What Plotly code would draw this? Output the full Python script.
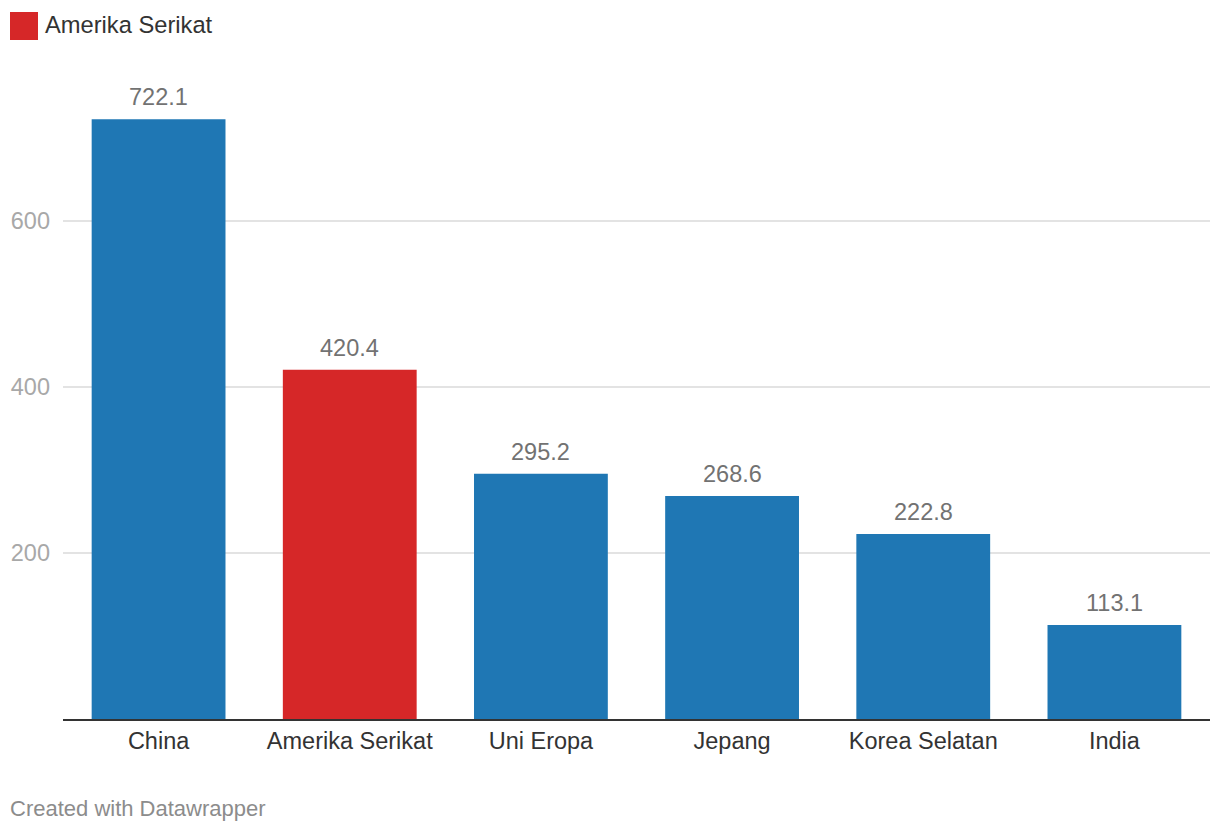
import plotly.graph_objects as go

categories = ["China", "Amerika Serikat", "Uni Eropa", "Jepang", "Korea Selatan", "India"]
values = [722.1, 420.4, 295.2, 268.6, 222.8, 113.1]
highlight = "Amerika Serikat"
legend_label = "Amerika Serikat"
y_ticks = [200, 400, 600]
footer = "Created with Datawrapper"

BLUE = "#1f77b4"
RED = "#d62728"
FONT = "Liberation Sans, Arial, Helvetica, sans-serif"

OFF = 8  # page body margin
W, H = 1220 - OFF, 832 - OFF
ML, MR, MT, MB = 63 - OFF, 10, 60 - OFF, 113
PW, PH = W - ML - MR, H - MT - MB


def px_x(p):
    return (p - OFF - ML) / PW


def px_y(p):
    return (H - MB - (p - OFF)) / PH


colors = [RED if c == highlight else BLUE for c in categories]

fig = go.Figure()
fig.add_trace(go.Bar(
    x=categories, y=values, marker=dict(color=colors, line=dict(width=0)),
    showlegend=False, hoverinfo="skip",
))

for c, v in zip(categories, values):
    fig.add_annotation(
        x=c, y=v, text=f"{v:.1f}", showarrow=False, yanchor="bottom",
        yshift=7, font=dict(family=FONT, size=23.5, color="#727272"),
    )

# legend swatch + label
fig.add_shape(type="rect", xref="paper", yref="paper",
              x0=px_x(10), x1=px_x(38), y0=px_y(40), y1=px_y(12),
              fillcolor=RED, line=dict(width=0))
fig.add_annotation(xref="paper", yref="paper", x=px_x(43), y=px_y(25),
                   xanchor="left", yanchor="middle", showarrow=False,
                   text=legend_label, font=dict(family=FONT, size=23.7, color="#333333"))

fig.add_annotation(xref="paper", yref="paper", x=px_x(8), y=px_y(808),
                   xanchor="left", yanchor="middle", showarrow=False,
                   text=footer, font=dict(family=FONT, size=22, color="#8c8c8c"))

fig.update_layout(
    width=W, height=H,
    margin=dict(l=ML, r=MR, t=MT, b=MB, pad=0, autoexpand=False),
    paper_bgcolor="white", plot_bgcolor="white",
    bargap=0.3,
    font=dict(family=FONT),
    xaxis=dict(
        automargin=False,
        showline=True, linecolor="#333333", linewidth=2,
        showgrid=False, ticks="", ticklabelstandoff=0,
        tickfont=dict(family=FONT, size=23.5, color="#333333"),
        range=[-0.5, len(categories) - 0.5], fixedrange=True,
    ),
    yaxis=dict(
        automargin=False,
        range=[0, PH / 0.8305], tickvals=y_ticks,
        showgrid=True, gridcolor="#e3e3e3", gridwidth=1.5,
        zeroline=False, showline=False, ticks="",
        ticklabelstandoff=12,
        tickfont=dict(family=FONT, size=23.5, color="#a8a8a8"),
        fixedrange=True,
    ),
)

fig.write_html("out.html")
